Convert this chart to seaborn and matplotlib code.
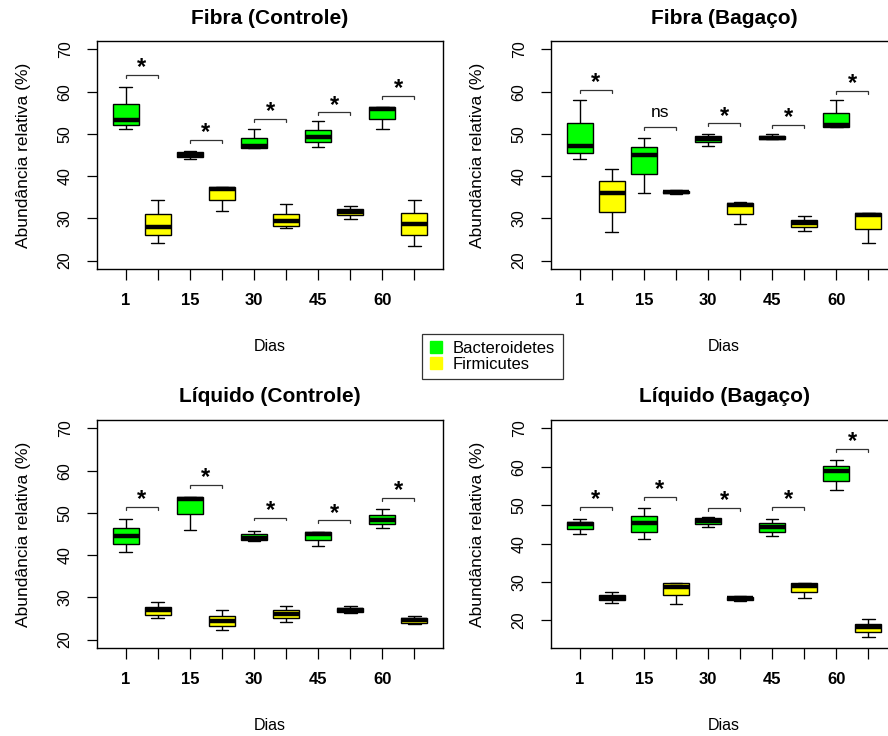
import numpy as np
import pandas as pd
import matplotlib
matplotlib.use("Agg")
import matplotlib.pyplot as plt
from matplotlib.lines import Line2D
import seaborn as sns

sns.set_style("ticks")
plt.rcParams['font.family'] = ['Liberation Sans', 'DejaVu Sans']
plt.rcParams.update({"text.color": "black", "axes.labelcolor": "black",
                     "xtick.color": "black", "ytick.color": "black",
                     "axes.edgecolor": "black"})

days = ["1", "15", "30", "45", "60"]
phyla = ["Bacteroidetes", "Firmicutes"]
palette = {"Bacteroidetes": "#00FF00", "Firmicutes": "#FFFF00"}

# five-number summaries: [min, Q1, median, Q3, max], one per day
fibra_ctrl_bact = [[51.1, 52.0, 53.2, 57.1, 61.1], [44.0, 44.5, 45.0, 45.6, 46.0],
                   [46.7, 46.7, 47.1, 49.0, 51.1], [47.0, 48.0, 49.2, 51.0, 53.1],
                   [51.1, 53.6, 55.9, 56.3, 56.3]]
fibra_ctrl_firm = [[24.1, 26.0, 27.9, 31.1, 34.3], [31.7, 34.3, 37.0, 37.5, 37.5],
                   [27.8, 28.3, 29.3, 31.1, 33.3], [29.8, 30.7, 31.5, 32.2, 32.9],
                   [23.4, 26.0, 28.7, 31.3, 34.3]]
fibra_bag_bact = [[44.0, 45.5, 47.1, 52.5, 58.0], [36.0, 40.5, 45.0, 47.0, 49.0],
                  [47.1, 48.0, 48.7, 49.5, 50.0], [48.7, 48.7, 49.1, 49.5, 50.0],
                  [51.7, 51.7, 52.1, 55.0, 58.0]]
fibra_bag_firm = [[26.7, 31.4, 36.1, 38.9, 41.7], [35.8, 35.9, 36.2, 36.5, 36.7],
                  [28.7, 31.0, 33.1, 33.6, 33.8], [27.1, 27.9, 28.9, 29.7, 30.6],
                  [24.2, 27.5, 30.9, 31.2, 31.2]]
liq_ctrl_bact = [[40.7, 42.6, 44.6, 46.5, 48.6], [45.9, 49.7, 53.4, 53.8, 53.8],
                 [43.4, 43.5, 44.0, 44.9, 45.8], [42.1, 43.6, 45.0, 45.4, 45.4],
                 [46.5, 47.4, 48.4, 49.6, 50.9]]
liq_ctrl_firm = [[25.2, 25.8, 27.0, 27.7, 28.9], [22.2, 23.2, 24.4, 25.5, 27.0],
                 [24.1, 25.1, 26.0, 26.9, 27.9], [26.4, 26.6, 27.1, 27.5, 28.0],
                 [23.6, 24.0, 24.6, 25.2, 25.5]]
liq_bag_bact = [[42.6, 43.8, 45.0, 45.7, 46.3], [41.2, 43.1, 45.4, 47.1, 49.2],
                [44.3, 45.2, 46.0, 46.6, 46.9], [41.9, 43.0, 44.3, 45.3, 46.3],
                [53.9, 56.3, 58.9, 60.1, 61.7]]
liq_bag_firm = [[24.5, 25.2, 25.8, 26.5, 27.3], [24.2, 26.5, 28.6, 29.7, 29.7],
                [25.0, 25.3, 25.7, 26.2, 26.3], [25.7, 27.5, 29.0, 29.7, 29.7],
                [15.7, 16.9, 18.3, 19.1, 20.3]]

# significance brackets: height and label per day
fibra_ctrl_brk = [63.9, 48.6, 53.5, 55.1, 59.0]
fibra_ctrl_sig = ["*", "*", "*", "*", "*"]
fibra_bag_brk = [60.4, 51.6, 52.5, 52.2, 60.2]
fibra_bag_sig = ["*", "ns", "*", "*", "*"]
liq_ctrl_brk = [51.5, 56.7, 48.9, 48.2, 53.6]
liq_ctrl_sig = ["*", "*", "*", "*", "*"]
liq_bag_brk = [49.5, 52.1, 49.3, 49.6, 64.6]
liq_bag_sig = ["*", "*", "*", "*", "*"]

titles = ["Fibra (Controle)", "Fibra (Bagaço)", "Líquido (Controle)", "Líquido (Bagaço)"]

panels = [
    (titles[0], fibra_ctrl_bact, fibra_ctrl_firm, fibra_ctrl_brk, fibra_ctrl_sig, (18, 72)),
    (titles[1], fibra_bag_bact, fibra_bag_firm, fibra_bag_brk, fibra_bag_sig, (18, 72)),
    (titles[2], liq_ctrl_bact, liq_ctrl_firm, liq_ctrl_brk, liq_ctrl_sig, (18, 72)),
    (titles[3], liq_bag_bact, liq_bag_firm, liq_bag_brk, liq_bag_sig, (12.8, 72.2)),
]

W, H = 888, 736
fig = plt.figure(figsize=(W / 100, H / 100), dpi=100)
fig.patch.set_facecolor("white")

# axes rectangles in pixels (left, top, right, bottom)
rects = [(97, 41, 443, 269), (551, 41, 897, 269), (97, 420, 443, 648), (551, 420, 897, 648)]

order = [f"{d}_{p}" for d in days for p in phyla]

for (title, bact, firm, brk, sig, ylim), (l, t, r, b) in zip(panels, rects):
    ax = fig.add_axes([l / W, 1 - b / H, (r - l) / W, (b - t) / H])
    rows = []
    for i, d in enumerate(days):
        for p, src in zip(phyla, (bact, firm)):
            for v in src[i]:
                rows.append({"pos": f"{d}_{p}", "Filo": p, "val": v})
    df = pd.DataFrame(rows)
    sns.boxplot(data=df, x="pos", y="val", hue="Filo", order=order, hue_order=phyla,
                palette=palette, dodge=False, width=0.8, whis=(0, 100), legend=False,
                linecolor="black", linewidth=1.0, saturation=1, ax=ax,
                medianprops=dict(color="black", linewidth=3.2, solid_capstyle="butt"),
                boxprops=dict(edgecolor="black"))
    # brackets
    for i, d in enumerate(days):
        x0, x1 = 2 * i, 2 * i + 1
        y = brk[i]
        tick = 0.7 * (ylim[1] - ylim[0]) / 54
        ax.plot([x0, x0, x1, x1], [y - tick, y, y, y - tick], color="#333333", lw=0.9,
                solid_joinstyle="miter")
        if sig[i] == "*":
            ax.annotate("*", (0.5 * (x0 + x1), y), xytext=(0, 0.5), textcoords="offset points",
                        ha="center", va="baseline", fontsize=17, fontweight="bold")
        else:
            ax.annotate(sig[i], (0.5 * (x0 + x1), y), xytext=(0, 7.5), textcoords="offset points",
                        ha="center", va="baseline", fontsize=12.5)
    ax.set_xlim(-0.9, 9.9)
    ax.set_ylim(*ylim)
    ax.set_yticks([20, 30, 40, 50, 60, 70])
    ax.set_yticklabels(["20", "30", "40", "50", "60", "70"], rotation=90, va="center")
    ax.set_xticks(range(10))
    lbls = []
    for d in days:
        lbls += [d, ""]
    ax.set_xticklabels(lbls, fontweight="bold", fontsize=12)
    ax.tick_params(axis="y", labelsize=11.5, length=7.5, width=0.9, direction="out", pad=10, colors="black")
    ax.tick_params(axis="x", length=8, width=0.9, direction="out", pad=9, colors="black")
    for s in ax.spines.values():
        s.set_visible(True)
        s.set_color("black")
        s.set_linewidth(1.0)
    ax.set_xlabel("Dias", fontsize=11.5, va="center")
    ax.xaxis.set_label_coords(0.5, -0.34)
    ax.set_ylabel("Abundância relativa (%)", fontsize=12.5, va="center")
    ax.yaxis.set_label_coords(-0.213, 0.5)
    ax.text(0.5, 1 + 23 / 228, title, transform=ax.transAxes, ha="center", va="center",
            fontsize=15, fontweight="bold")
    ax.set_facecolor("white")

handles = [Line2D([], [], marker="s", linestyle="none", markersize=8, markerfacecolor=palette[p],
                  markeredgecolor=palette[p], label=p) for p in phyla]
leg = fig.legend(handles=handles, loc="center", bbox_to_anchor=(492.5 / W, 1 - 356.5 / H),
                 fontsize=12, frameon=True, fancybox=False, edgecolor="black",
                 handlelength=0.8, handletextpad=0.6, labelspacing=0.05, borderpad=0.45)
leg.get_frame().set_linewidth(0.9)

fig.savefig("out.png", dpi=100, facecolor="white")
